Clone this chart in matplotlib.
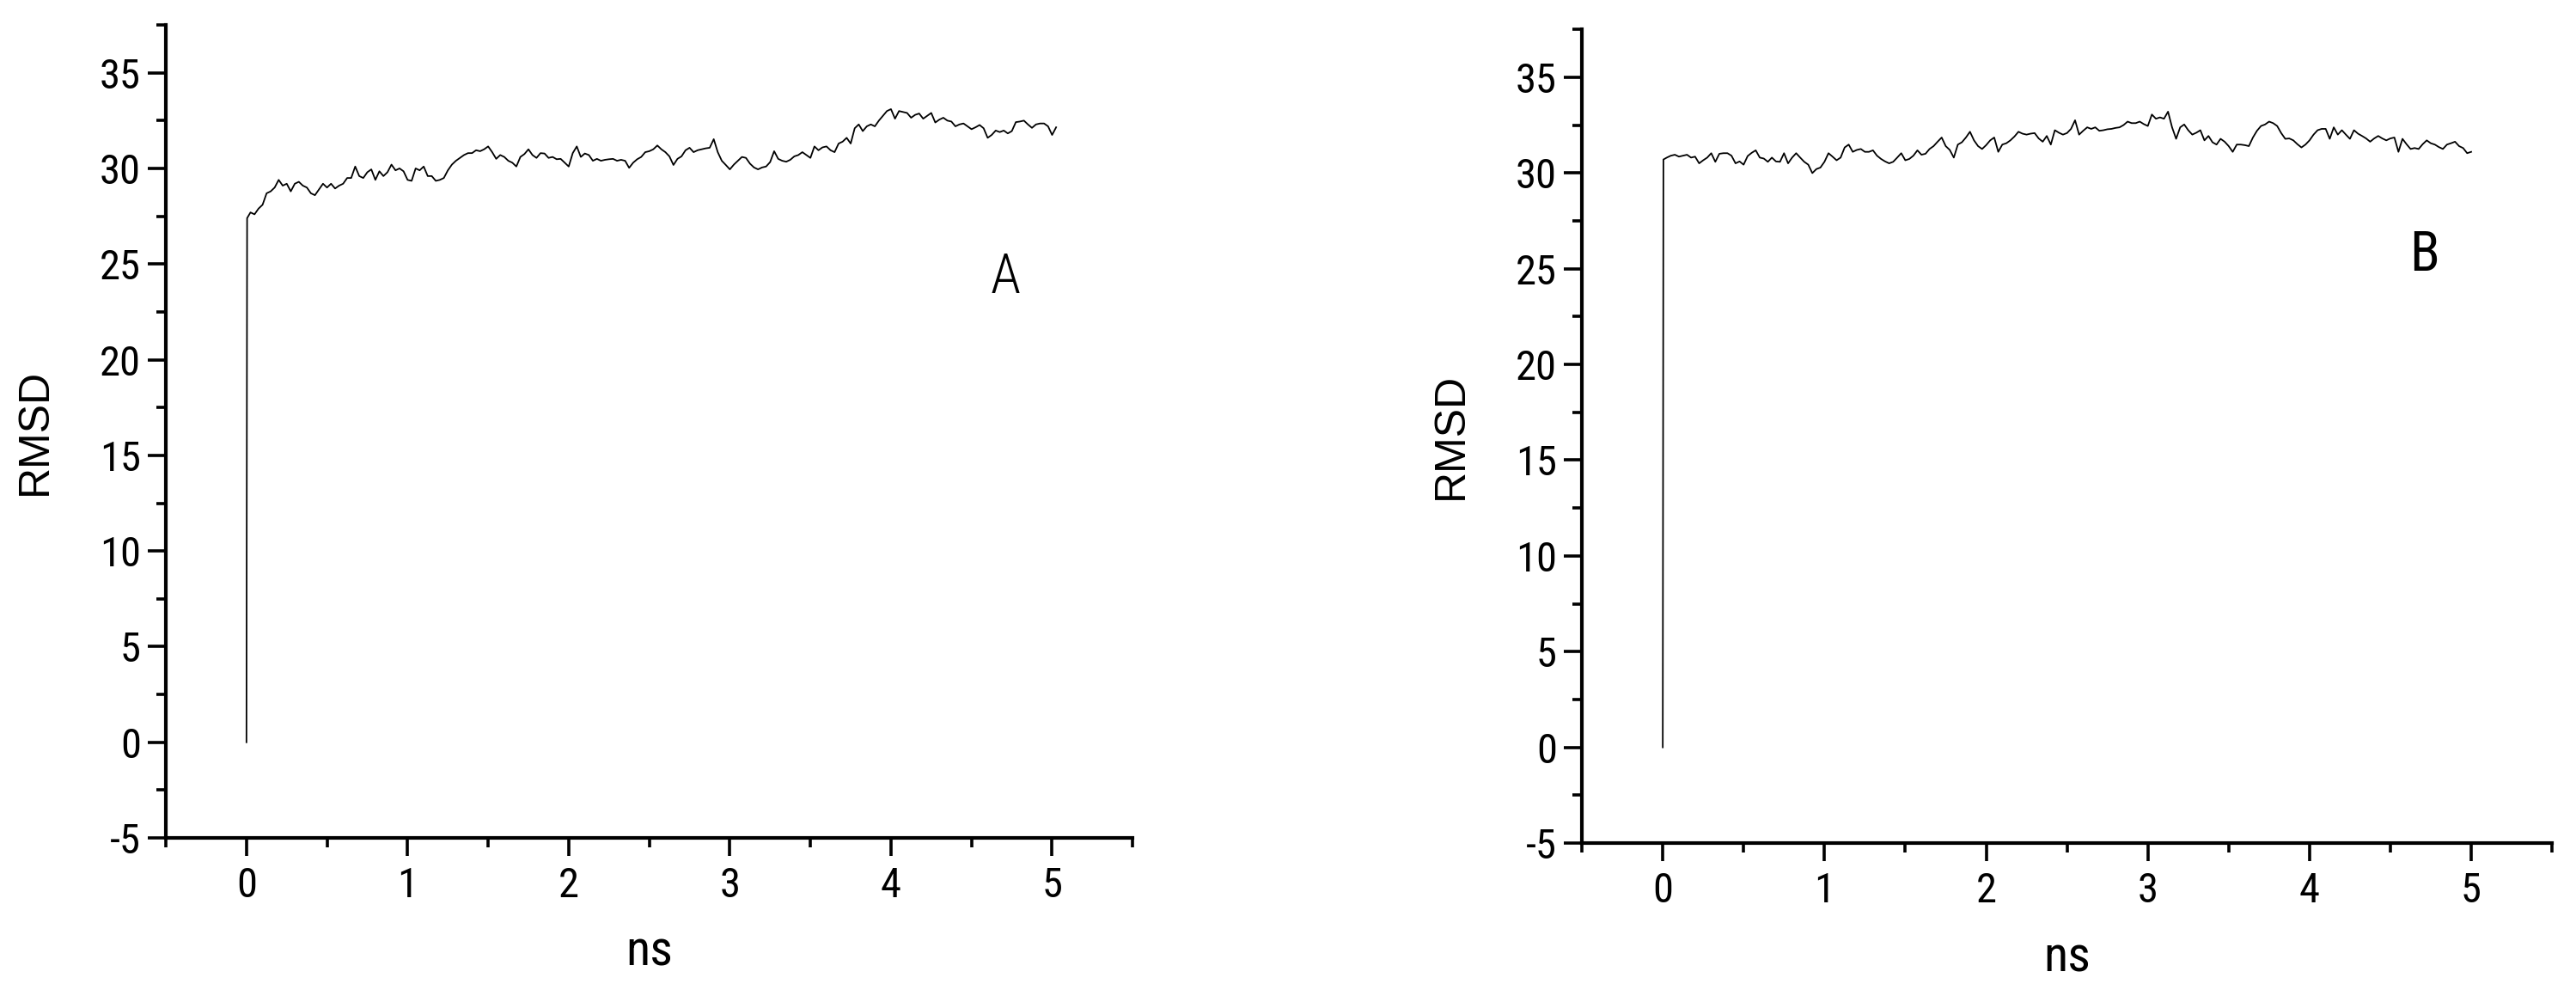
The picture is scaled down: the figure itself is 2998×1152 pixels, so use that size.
import matplotlib
matplotlib.use("Agg")
import matplotlib.pyplot as plt
from matplotlib import font_manager
from matplotlib.ticker import MultipleLocator
import numpy as np

plt.rcParams["axes.unicode_minus"] = False  # reference shows "-5" with a hyphen


def pick_font(*names):
    for name in names:
        try:
            font_manager.findfont(name, fallback_to_default=False)
            return name
        except ValueError:
            pass
    return "DejaVu Sans"


NARROW = pick_font("Roboto Condensed", "Archivo Narrow", "PT Sans Narrow", "Liberation Sans")
REGULAR = pick_font("Liberation Sans", "DejaVu Sans")

# ---- data ----
STEP_NS = 0.025          # sampling of the traces
START_T = [0.0, 0.004]   # the jump at t = 0

start_a = [0.0, 27.4]
rmsd_a = [
    27.7, 27.6, 27.9, 28.1, 28.7, 28.8, 29.0, 29.4, 29.1, 29.2,
    28.8, 29.2, 29.3, 29.1, 29.0, 28.7, 28.6, 28.9, 29.2, 29.0,
    29.2, 28.95, 29.1, 29.2, 29.5, 29.5, 30.1, 29.6, 29.5, 29.8,
    29.95, 29.4, 29.85, 29.6, 29.8, 30.2, 29.9, 30.0, 29.85, 29.4,
    29.35, 30.0, 29.9, 30.1, 29.6, 29.6, 29.35, 29.4, 29.5, 29.9,
    30.2, 30.4, 30.55, 30.7, 30.8, 30.8, 30.95, 30.9, 31.0, 31.15,
    30.85, 30.5, 30.7, 30.6, 30.4, 30.3, 30.1, 30.6, 30.75, 31.0,
    30.7, 30.55, 30.8, 30.78, 30.55, 30.6, 30.48, 30.5, 30.3, 30.1,
    30.8, 31.15, 30.6, 30.78, 30.7, 30.4, 30.5, 30.4, 30.45, 30.48,
    30.5, 30.4, 30.45, 30.4, 30.03, 30.3, 30.48, 30.6, 30.85, 30.9,
    31.0, 31.2, 31.0, 30.85, 30.63, 30.18, 30.5, 30.63, 30.95, 31.08,
    30.85, 30.95, 31.0, 31.05, 31.08, 31.53, 30.85, 30.4, 30.18, 29.95,
    30.2, 30.4, 30.6, 30.55, 30.25, 30.05, 29.95, 30.05, 30.1, 30.33,
    30.9, 30.5, 30.4, 30.35, 30.45, 30.63, 30.7, 30.85, 30.7, 30.55,
    31.15, 30.95, 31.1, 31.15, 30.95, 30.85, 31.3, 31.4, 31.6, 31.3,
    32.1, 32.3, 31.95, 32.2, 32.3, 32.2, 32.5, 32.75, 33.0, 33.1,
    32.6, 33.0, 32.95, 32.9, 32.65, 32.8, 32.87, 32.6, 32.75, 32.9,
    32.4, 32.55, 32.65, 32.5, 32.45, 32.2, 32.3, 32.35, 32.2, 32.05,
    32.15, 32.27, 32.1, 31.6, 31.75, 31.98, 31.9, 31.98, 31.83, 31.95,
    32.42, 32.45, 32.5, 32.3, 32.12, 32.3, 32.35, 32.35, 32.2, 31.75,
    32.15,
]

start_b = [0.0, 30.7]
rmsd_b = [
    30.8, 30.9, 30.95, 30.85, 30.9, 30.95, 30.8, 30.85, 30.5, 30.66,
    30.8, 31.03, 30.58, 31.0, 31.03, 31.03, 30.9, 30.5, 30.6, 30.43,
    30.88, 31.05, 31.18, 30.8, 30.75, 30.58, 30.8, 30.6, 30.58, 31.03,
    30.5, 30.8, 31.03, 30.8, 30.58, 30.43, 29.99, 30.2, 30.28, 30.58,
    31.03, 30.85, 30.66, 30.8, 31.33, 31.48, 31.1, 31.2, 31.25, 31.1,
    31.1, 31.18, 30.9, 30.73, 30.6, 30.5, 30.58, 30.8, 31.03, 30.66,
    30.73, 30.9, 31.18, 30.95, 31.0, 31.25, 31.4, 31.63, 31.85, 31.4,
    31.2, 30.8, 31.48, 31.6, 31.85, 32.15, 31.7, 31.4, 31.25, 31.45,
    31.7, 31.85, 31.1, 31.48, 31.55, 31.7, 31.9, 32.15, 32.05, 32.0,
    32.05, 32.08, 31.8, 31.63, 31.93, 31.48, 32.23, 32.1, 32.0, 32.08,
    32.3, 32.75, 32.0, 32.2, 32.38, 32.3, 32.38, 32.2, 32.23, 32.28,
    32.3, 32.35, 32.38, 32.5, 32.68, 32.6, 32.6, 32.68, 32.55, 32.45,
    33.05, 32.83, 32.9, 32.83, 33.2, 32.38, 31.78, 32.38, 32.53, 32.23,
    32.0, 32.1, 32.23, 31.7, 31.93, 31.6, 31.48, 31.78, 31.63, 31.4,
    31.1, 31.48, 31.48, 31.45, 31.4, 31.85, 32.2, 32.45, 32.53, 32.68,
    32.6, 32.45, 32.08, 31.78, 31.8, 31.7, 31.5, 31.33, 31.48, 31.7,
    32.0, 32.23, 32.3, 32.3, 31.78, 32.38, 32.0, 32.23, 32.0, 31.78,
    32.23, 32.05, 31.93, 31.8, 31.63, 31.8, 31.93, 31.8, 31.7, 31.8,
    31.85, 31.1, 31.78, 31.5, 31.25, 31.3, 31.25, 31.5, 31.7, 31.55,
    31.48, 31.35, 31.25, 31.48, 31.55, 31.63, 31.4, 31.3, 31.03, 31.1,
]

panel_tags = ["A", "B"]
x_label = "ns"
y_label = "RMSD"
x_ticks = [0, 1, 2, 3, 4, 5]
y_ticks = [-5, 0, 5, 10, 15, 20, 25, 30, 35]


def series(start_v, values):
    t = np.concatenate([START_T, STEP_NS * np.arange(1, len(values) + 1)])
    v = np.concatenate([start_v, values])
    return t, v


fig = plt.figure(figsize=(29.98, 11.52), dpi=100)
ax_a = fig.add_axes([0.0644, 0.1536, 0.3753, 0.8212])
ax_b = fig.add_axes([0.6141, 0.1484, 0.3766, 0.8220])

# (axes, start, values, tag position, tag weight)
panels = [(ax_a, start_a, rmsd_a, (4.71, 24.3), "light"),
          (ax_b, start_b, rmsd_b, (4.71, 25.7), "normal")]

for (ax, s, vals, tag_pos, tag_w), tag in zip(panels, panel_tags):
    t, v = series(s, vals)
    ax.plot(t, v, color="black", lw=1.3)

    ax.set_xlim(-0.5, 5.5)
    ax.set_ylim(-5, 37.5)
    ax.set_xticks(x_ticks)
    ax.set_yticks(y_ticks)
    ax.xaxis.set_minor_locator(MultipleLocator(0.5))
    ax.yaxis.set_minor_locator(MultipleLocator(2.5))

    for side in ("top", "right"):
        ax.spines[side].set_visible(False)
    for side in ("left", "bottom"):
        ax.spines[side].set_linewidth(3.0)

    ax.tick_params(which="major", direction="out", length=15, width=2.6,
                   labelsize=35, pad=6)
    ax.tick_params(axis="x", which="major", pad=9)
    ax.tick_params(which="minor", direction="out", length=8, width=2.6)
    for lab in ax.get_xticklabels() + ax.get_yticklabels():
        lab.set_fontfamily(NARROW)

    ax.set_xlabel(x_label, fontsize=42, family=NARROW)
    ax.set_ylabel(y_label, fontsize=36, family=REGULAR)
    ax.xaxis.set_label_coords(0.5, -0.141)
    ax.xaxis.label.set_va("center")
    ax.yaxis.set_label_coords(-0.135, 0.5)
    ax.yaxis.label.set_va("center")

    ax.text(tag_pos[0], tag_pos[1], tag, fontsize=46, family=NARROW,
            weight=tag_w, ha="center", va="center")

fig.savefig("out.png", dpi=100)
